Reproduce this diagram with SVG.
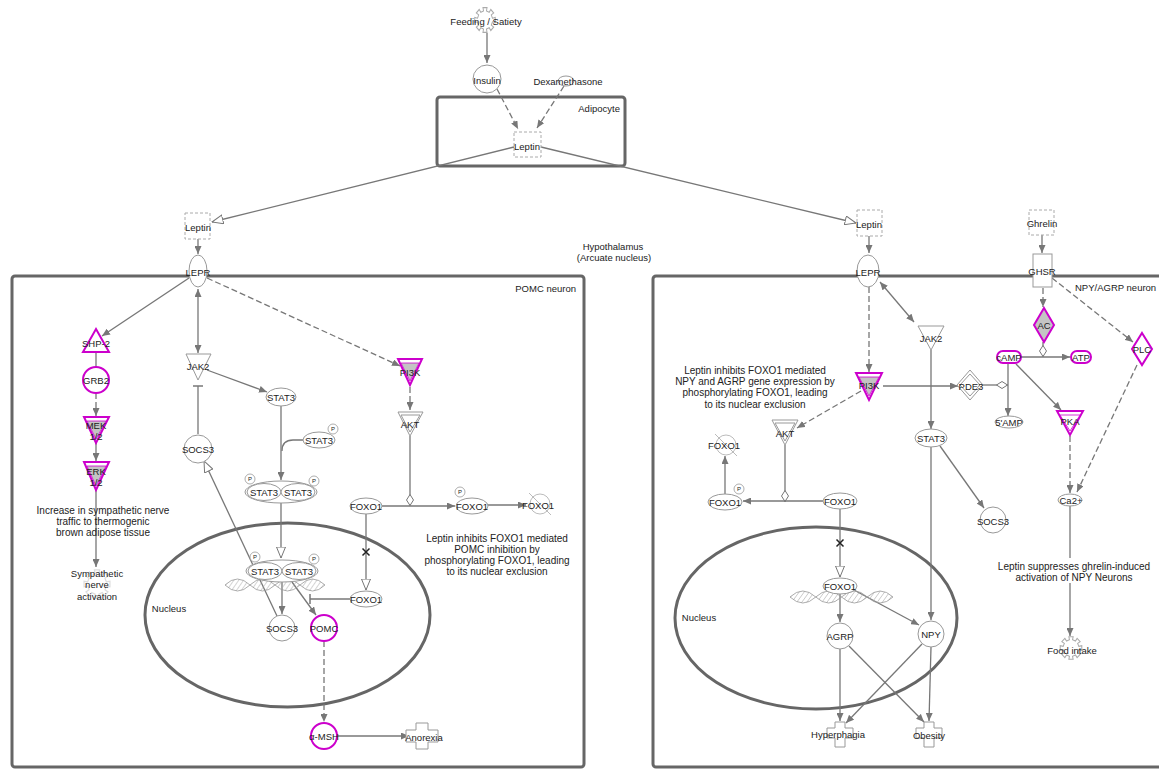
<svg xmlns="http://www.w3.org/2000/svg" width="1159" height="769" viewBox="0 0 1159 769">
<style>
.ln{fill:none;stroke:#777;stroke-width:1.3}
.ds{stroke-dasharray:6,3}
.nd{fill:#fff;stroke:#999;stroke-width:1}
.dr{fill:#fff;stroke:#aaa;stroke-width:1;stroke-dasharray:3,2}
.mg{fill:#fff;stroke:#c0c;stroke-width:2}
.mi{fill:#c4c4c4;stroke:#c0c;stroke-width:0.8}
.box{fill:none;stroke:#666;stroke-width:3}
.gear{fill:#fff;stroke:#aaa;stroke-width:1}
.x{stroke:#222;stroke-width:1.5}
text{font-family:"Liberation Sans",Arial,sans-serif;fill:#222}
.t{font-size:9.5px;text-anchor:middle;dominant-baseline:central}
.n{font-size:10px;text-anchor:middle;dominant-baseline:central}
.p{font-size:6px;text-anchor:middle;dominant-baseline:central}
.pc{fill:#fff;stroke:#999;stroke-width:0.8}
.hx{fill:url(#hatch);stroke:#999;stroke-width:0.8}
.cr{fill:#fff;stroke:#aaa;stroke-width:0.8}
</style>
<defs>
<marker id="af" viewBox="0 0 8 7" refX="8" refY="3.5" markerWidth="8" markerHeight="7" orient="auto-start-reverse" markerUnits="userSpaceOnUse"><path d="M0,0 L8,3.5 L0,7 z" fill="#777"/></marker>
<marker id="ao" viewBox="0 0 12 10" refX="11.5" refY="5" markerWidth="12" markerHeight="10" orient="auto" markerUnits="userSpaceOnUse"><path d="M0.5,0.5 L11.5,5 L0.5,9.5 z" fill="#fff" stroke="#777"/></marker>
<marker id="tb" viewBox="0 0 2 10" refX="1" refY="5" markerWidth="2" markerHeight="10" orient="auto" markerUnits="userSpaceOnUse"><path d="M1,0 V10" stroke="#777" stroke-width="1.5"/></marker>
<marker id="dm" viewBox="0 0 12 8" refX="12" refY="4" markerWidth="12" markerHeight="8" orient="auto" markerUnits="userSpaceOnUse"><path d="M0.5,4 L6,0.5 L11.5,4 L6,7.5 z" fill="#fff" stroke="#777"/></marker>
<pattern id="hatch" width="4" height="4" patternUnits="userSpaceOnUse" patternTransform="rotate(35)"><line x1="0" y1="0" x2="0" y2="4" stroke="#aaa" stroke-width="1"/></pattern>
<path id="gear" d="M7.85,-1.56 L10.79,-2.15 L10.79,2.15 L7.85,1.56 L6.65,4.44 L9.15,6.11 L6.11,9.15 L4.44,6.65 L1.56,7.85 L2.15,10.79 L-2.15,10.79 L-1.56,7.85 L-4.44,6.65 L-6.11,9.15 L-9.15,6.11 L-6.65,4.44 L-7.85,1.56 L-10.79,2.15 L-10.79,-2.15 L-7.85,-1.56 L-6.65,-4.44 L-9.15,-6.11 L-6.11,-9.15 L-4.44,-6.65 L-1.56,-7.85 L-2.15,-10.79 L2.15,-10.79 L1.56,-7.85 L4.44,-6.65 L6.11,-9.15 L9.15,-6.11 L6.65,-4.44 Z"/>
<path id="helix" d="M0,0 Q12.5,-12 25,0 Q37.5,12 50,0 Q62.5,-12 75,0 Q87.5,12 100,0 Q87.5,-12 75,0 Q62.5,12 50,0 Q37.5,-12 25,0 Q12.5,12 0,0 Z"/>
</defs>

<g id="compartments">
<g id="adipocyte"><rect class="box" x="437" y="97" width="188" height="69" rx="3"/><text class="t" x="620" y="108" text-anchor="end" style="text-anchor:end">Adipocyte</text></g>
<g id="hypothalamus"><text class="t" x="613" y="246">Hypothalamus</text><text class="t" x="614" y="257">(Arcuate nucleus)</text></g>
<g id="pomc-neuron"><rect class="box" x="12" y="276" width="572" height="491" rx="3"/><text class="t" x="576" y="288" style="text-anchor:end">POMC neuron</text></g>
<g id="npy-neuron"><rect class="box" x="653" y="276" width="530" height="491" rx="3"/><text class="t" x="1075" y="287" style="text-anchor:start">NPY/AGRP neuron</text></g>
<g id="nucleus-left"><ellipse class="box" cx="287.5" cy="615" rx="142.5" ry="92"/><text class="t" x="169" y="608">Nucleus</text></g>
<g id="nucleus-right"><ellipse class="box" cx="816" cy="618" rx="141" ry="91"/><text class="t" x="699" y="617">Nucleus</text></g>
</g>

<g id="connectors">
<path class="ln" d="M487,33 V63" marker-end="url(#af)"/>
<path class="ln ds" d="M497,89 L518,129" marker-end="url(#af)"/>
<path class="ln ds" d="M564,86 L537,128" marker-end="url(#af)"/>
<path class="ln" d="M514,147 L212,222" marker-end="url(#ao)"/>
<path class="ln" d="M541,147 L856,223" marker-end="url(#ao)"/>
<path class="ln" d="M198,239 V254" marker-end="url(#af)"/>
<path class="ln" d="M189,278 L102,336" marker-end="url(#af)"/>
<path class="ln" d="M198,289 V353" marker-start="url(#af)" marker-end="url(#af)"/>
<path class="ln" d="M207,370 L267,392" marker-end="url(#af)"/>
<path class="ln" d="M198,434 V386" marker-end="url(#tb)"/>
<path class="ln" d="M281,406 V480" marker-end="url(#af)"/>
<path class="ln" d="M304,440 H293 Q282,440 282,451"/>
<path class="ln" d="M281,503 V558" marker-end="url(#ao)"/>
<path class="ln" d="M282,582 V614" marker-end="url(#af)"/>
<path class="ln" d="M292,582 L316,615" marker-end="url(#af)"/>
<path class="ln" d="M277,616 L204,461" marker-end="url(#ao)"/>
<path class="ln" d="M350,599 H310" marker-end="url(#tb)"/>
<path class="ln" d="M366,514 V590" marker-end="url(#ao)"/>
<path class="ln" d="M382,506 H455" marker-end="url(#af)"/>
<path class="ln" d="M410,436 V506" marker-end="url(#dm)"/>
<path class="ln" d="M488,505 H526" marker-end="url(#af)"/>
<path class="ln ds" d="M207,278 L400,366" marker-end="url(#af)"/>
<path class="ln ds" d="M410,387 V410" marker-end="url(#af)"/>
<path class="ln ds" d="M324,641 V722" marker-end="url(#af)"/>
<path class="ln" d="M337,736 H409" marker-end="url(#af)"/>
<path class="ln" d="M96,352 V367"/>
<path class="ln ds" d="M96,393 V416" marker-end="url(#af)"/>
<path class="ln" d="M96,443 V461" marker-end="url(#af)"/>
<path class="ln" d="M96,490 V567" marker-end="url(#af)"/>
<path class="ln" d="M869,236 V253" marker-end="url(#af)"/>
<path class="ln ds" d="M869,287 V372" marker-end="url(#af)"/>
<path class="ln" d="M880,282 L914,322" marker-start="url(#af)" marker-end="url(#af)"/>
<path class="ln" d="M931,350 V429" marker-end="url(#af)"/>
<path class="ln" d="M883,386 H958" marker-end="url(#af)"/>
<path class="ln" d="M983,385 H1008" marker-end="url(#dm)"/>
<path class="ln" d="M1008,364 V416" marker-end="url(#af)"/>
<path class="ln" d="M1021,357 H1070" marker-end="url(#af)"/>
<path class="ln" d="M1043,342 V357" marker-end="url(#dm)"/>
<path class="ln" d="M1042,235 V253" marker-end="url(#af)"/>
<path class="ln ds" d="M1043,288 V307" marker-end="url(#af)"/>
<path class="ln ds" d="M1052,278 L1133,342" marker-end="url(#af)"/>
<path class="ln" d="M1016,364 L1061,410" marker-end="url(#af)"/>
<path class="ln ds" d="M1070,436 V493" marker-end="url(#af)"/>
<path class="ln ds" d="M1137,365 L1077,492" marker-end="url(#af)"/>
<path class="ln" d="M1070,506 V636" marker-end="url(#af)"/>
<path class="ln" d="M940,446 L984,508" marker-end="url(#af)"/>
<path class="ln" d="M931,447 V620" marker-end="url(#af)"/>
<path class="ln ds" d="M861,391 L797,428" marker-end="url(#af)"/>
<path class="ln" d="M785,445 V502" marker-end="url(#dm)"/>
<path class="ln" d="M824,501 H743" marker-end="url(#af)"/>
<path class="ln" d="M725,494 V456" marker-end="url(#af)"/>
<path class="ln" d="M840,509 V577" marker-end="url(#ao)"/>
<path class="ln" d="M840,594 V622" marker-end="url(#af)"/>
<path class="ln" d="M854,590 L919,625" marker-end="url(#af)"/>
<path class="ln" d="M840,649 V721" marker-end="url(#af)"/>
<path class="ln" d="M849,646 L924,722" marker-end="url(#af)"/>
<path class="ln" d="M922,644 L846,723" marker-end="url(#af)"/>
<path class="ln" d="M931,647 L929,721" marker-end="url(#af)"/>
<path class="x" d="M362.5,548.5 L369.5,555.5 M369.5,548.5 L362.5,555.5"/>
<path class="x" d="M836.5,539.5 L843.5,546.5 M843.5,539.5 L836.5,546.5"/>
</g>

<g id="feeding-satiety"><use href="#gear" class="gear" transform="translate(485,20) scale(0.95,1.15)"/><text class="t" x="486" y="21">Feeding / Satiety</text></g>
<g id="insulin"><circle class="nd" cx="487" cy="79" r="14"/><text class="t" x="487" y="80">Insulin</text></g>
<g id="dexamethasone"><ellipse class="nd" cx="566" cy="81" rx="8" ry="5"/><text class="t" x="568" y="81">Dexamethasone</text></g>
<g id="leptin-adipocyte"><rect class="dr" x="514" y="132" width="27" height="25"/><text class="t" x="527" y="146">Leptin</text></g>

<g id="leptin-left"><rect class="dr" x="185" y="213" width="25" height="26"/><text class="t" x="198" y="227">Leptin</text></g>
<g id="lepr-left"><ellipse class="nd" cx="198" cy="271" rx="9" ry="16"/><text class="t" x="198" y="272">LEPR</text></g>
<g id="shp2"><polygon class="mg" points="96,329 109,352 83,352"/><text class="t" x="96" y="343">SHP-2</text></g>
<g id="grb2"><circle class="mg" cx="96" cy="380" r="13"/><text class="t" x="96" y="380">GRB2</text></g>
<g id="mek"><polygon class="mg" points="84,417 109,417 96,443"/><polygon class="mi" points="87,421 106,421 96,439"/><text class="t" x="96" y="425">MEK</text><text class="t" x="96" y="436">1/2</text></g>
<g id="erk"><polygon class="mg" points="84,462 109,462 96,490"/><polygon class="mi" points="87,466 106,466 96,486"/><text class="t" x="96" y="471">ERK</text><text class="t" x="96" y="482">1/2</text></g>
<g id="note-sympathetic"><text class="n" x="103" y="510">Increase in sympathetic nerve</text><text class="n" x="103" y="521">traffic to thermogenic</text><text class="n" x="103" y="532">brown adipose tissue</text></g>
<g id="sympathetic-activation"><use href="#gear" transform="translate(97,584) scale(1.2,1.3)" fill="none" stroke="#ddd"/><text class="t" x="97" y="573">Sympathetic</text><text class="t" x="97" y="584">nerve</text><text class="t" x="97" y="596">activation</text></g>
<g id="jak2-left"><polygon class="nd" points="186,354 211,354 198,380"/><text class="t" x="198" y="366">JAK2</text></g>
<g id="stat3-left"><ellipse class="nd" cx="281" cy="397" rx="15" ry="9"/><text class="t" x="281" y="397">STAT3</text></g>
<g id="stat3p-left"><ellipse class="nd" cx="319" cy="440" rx="16" ry="8"/><text class="t" x="319" y="440">STAT3</text><circle class="pc" cx="333" cy="429" r="5"/><text class="p" x="333" y="429">P</text></g>
<g id="socs3-cyto"><circle class="nd" cx="198" cy="449" r="14"/><text class="t" x="198" y="449">SOCS3</text></g>
<g id="stat3-dimer-cyto"><ellipse class="nd" cx="281" cy="492" rx="36" ry="11"/><ellipse class="nd" cx="264" cy="492" rx="17" ry="8.5"/><ellipse class="nd" cx="298" cy="492" rx="17" ry="8.5"/><text class="t" x="264" y="492">STAT3</text><text class="t" x="298" y="492">STAT3</text><circle class="pc" cx="250" cy="479" r="5"/><text class="p" x="250" y="479">P</text><circle class="pc" cx="314" cy="481" r="5"/><text class="p" x="314" y="481">P</text></g>
<g id="dna-left"><use href="#helix" class="hx" transform="translate(225,585)"/></g>
<g id="stat3-dimer-nuc"><ellipse class="nd" cx="282" cy="571" rx="36" ry="11"/><ellipse class="nd" cx="265" cy="571" rx="17" ry="8.5"/><ellipse class="nd" cx="299" cy="571" rx="17" ry="8.5"/><text class="t" x="265" y="571">STAT3</text><text class="t" x="299" y="571">STAT3</text><circle class="pc" cx="255" cy="557" r="5"/><text class="p" x="255" y="557">P</text><circle class="pc" cx="314" cy="559" r="5"/><text class="p" x="314" y="559">P</text></g>
<g id="socs3-nuc"><circle class="nd" cx="282" cy="628" r="13"/><text class="t" x="282" y="628">SOCS3</text></g>
<g id="pomc"><circle class="mg" cx="324" cy="628" r="13"/><text class="t" x="324" y="628">POMC</text></g>
<g id="foxo1-cyto-left"><ellipse class="nd" cx="366" cy="506" rx="16" ry="8"/><text class="t" x="366" y="506">FOXO1</text></g>
<g id="foxo1-nuc-left"><ellipse class="nd" cx="366" cy="599" rx="16" ry="8"/><text class="t" x="366" y="599">FOXO1</text></g>
<g id="foxo1p-left"><ellipse class="nd" cx="472" cy="506" rx="16" ry="8"/><text class="t" x="472" y="506">FOXO1</text><circle class="pc" cx="460" cy="492" r="5"/><text class="p" x="460" y="492">P</text></g>
<g id="foxo1-deg-left"><circle class="cr" cx="540" cy="504" r="10"/><path d="M529,493 L551,515" stroke="#aaa" stroke-width="0.8"/><text class="t" x="538" y="505">FOXO1</text></g>
<g id="pi3k-left"><polygon class="mg" points="398,359 422,359 410,385"/><polygon class="mi" points="401,363 419,363 410,381"/><text class="t" x="410" y="372">PI3K</text></g>
<g id="akt-left"><polygon class="nd" points="398,412 423,412 410,436"/><polygon class="nd" points="401,415 420,415 410,432"/><text class="t" x="410" y="424">AKT</text></g>
<g id="note-pomc"><text class="n" x="497" y="538">Leptin inhibits FOXO1 mediated</text><text class="n" x="497" y="549">POMC inhibition by</text><text class="n" x="497" y="560">phosphorylating FOXO1, leading</text><text class="n" x="497" y="571">to its nuclear exclusion</text></g>
<g id="alpha-msh"><circle class="mg" cx="324" cy="736" r="13"/><text class="t" x="324" y="736">α-MSH</text></g>
<g id="anorexia"><path class="nd" d="M416,723 h12 v7 h10 v12 h-10 v7 h-12 v-7 h-10 v-12 h10 z"/><text class="t" x="424" y="737">Anorexia</text></g>

<g id="leptin-right"><rect class="dr" x="857" y="210" width="25" height="26"/><text class="t" x="869" y="224">Leptin</text></g>
<g id="lepr-right"><ellipse class="nd" cx="868" cy="271" rx="11" ry="16"/><text class="t" x="868" y="272">LEPR</text></g>
<g id="pi3k-right"><polygon class="mg" points="856,373 882,373 869,400"/><polygon class="mi" points="859,377 879,377 869,396"/><text class="t" x="869" y="385">PI3K</text></g>
<g id="note-npy"><text class="n" x="755" y="370">Leptin inhibits FOXO1 mediated</text><text class="n" x="755" y="381">NPY and AGRP gene expression by</text><text class="n" x="755" y="392">phosphorylating FOXO1,  leading</text><text class="n" x="755" y="404">to its nuclear exclusion</text></g>
<g id="jak2-right"><polygon class="nd" points="918,326 944,326 931,350"/><text class="t" x="931" y="338">JAK2</text></g>
<g id="stat3-right"><ellipse class="nd" cx="931" cy="438" rx="16" ry="9"/><text class="t" x="931" y="438">STAT3</text></g>
<g id="pde3"><polygon class="nd" points="970,370 983,385 970,400 957,385"/><polygon class="nd" points="970,374 980,385 970,396 960,385"/><text class="t" x="971" y="386">PDE3</text></g>
<g id="camp"><rect class="mg" x="997" y="351" width="24" height="12" rx="6"/><text class="t" x="1009" y="357">cAMP</text></g>
<g id="atp"><rect class="mg" x="1071" y="351" width="20" height="12" rx="6"/><text class="t" x="1081" y="357">ATP</text></g>
<g id="amp5"><ellipse class="nd" cx="1009" cy="422" rx="14" ry="6"/><text class="t" x="1009" y="422">5'AMP</text></g>
<g id="ghrelin"><rect class="dr" x="1029" y="210" width="25" height="25"/><text class="t" x="1042" y="223">Ghrelin</text></g>
<g id="ghsr"><rect class="nd" x="1033" y="254" width="19" height="33"/><text class="t" x="1042" y="271">GHSR</text></g>
<g id="ac"><polygon class="mg" points="1044,308 1054,325 1044,342 1034,325" style="fill:#c4c4c4"/><text class="t" x="1044" y="325">AC</text></g>
<g id="plc"><polygon class="mg" points="1142,333 1152,349 1142,365 1132,349"/><text class="t" x="1142" y="349">PLC</text></g>
<g id="pka"><polygon class="mg" points="1057,411 1083,411 1070,435"/><polygon class="mi" points="1060,415 1080,415 1070,431" style="fill:#fff"/><text class="t" x="1070" y="421">PKA</text></g>
<g id="ca2"><ellipse class="nd" cx="1070" cy="500" rx="12" ry="6"/><text class="t" x="1071" y="500">Ca2+</text></g>
<g id="note-ghrelin"><rect x="1012" y="558" width="126" height="25" fill="#fff"/><text class="n" x="1074" y="566">Leptin suppresses ghrelin-induced</text><text class="n" x="1074" y="577">activation of NPY Neurons</text></g>
<g id="food-intake"><use href="#gear" class="gear" transform="translate(1071,648) scale(1,1.05)"/><text class="t" x="1072" y="650">Food intake</text></g>
<g id="socs3-right"><circle class="nd" cx="993" cy="520" r="13"/><text class="t" x="993" y="521">SOCS3</text></g>
<g id="akt-right"><polygon class="nd" points="772,420 798,420 785,445"/><polygon class="nd" points="775,423 795,423 785,441"/><text class="t" x="785" y="433">AKT</text></g>
<g id="foxo1-cyto-right"><ellipse class="nd" cx="840" cy="501" rx="17" ry="8"/><text class="t" x="840" y="501">FOXO1</text></g>
<g id="foxo1p-right"><ellipse class="nd" cx="725" cy="502" rx="17" ry="8"/><text class="t" x="725" y="502">FOXO1</text><circle class="pc" cx="739" cy="489" r="5"/><text class="p" x="739" y="489">P</text></g>
<g id="foxo1-deg-right"><circle class="cr" cx="726" cy="445" r="10"/><path d="M715,434 L737,456" stroke="#aaa" stroke-width="0.8"/><text class="t" x="724" y="445">FOXO1</text></g>
<g id="dna-right"><use href="#helix" class="hx" transform="translate(790,597) scale(1.03,1)"/></g>
<g id="foxo1-nuc-right"><ellipse class="nd" cx="840" cy="586" rx="17" ry="8"/><text class="t" x="840" y="586">FOXO1</text></g>
<g id="agrp"><circle class="nd" cx="840" cy="636" r="13"/><text class="t" x="840" y="636">AGRP</text></g>
<g id="npy"><circle class="nd" cx="931" cy="634" r="13"/><text class="t" x="931" y="634">NPY</text></g>
<g id="hyperphagia"><path class="nd" d="M835,722 h10 v6 h8 v10 h-8 v9 h-10 v-9 h-8 v-10 h8 z"/><text class="t" x="838" y="734">Hyperphagia</text></g>
<g id="obesity"><path class="nd" d="M924,722 h10 v6 h8 v10 h-8 v9 h-10 v-9 h-8 v-10 h8 z"/><text class="t" x="929" y="735">Obesity</text></g>
</svg>
